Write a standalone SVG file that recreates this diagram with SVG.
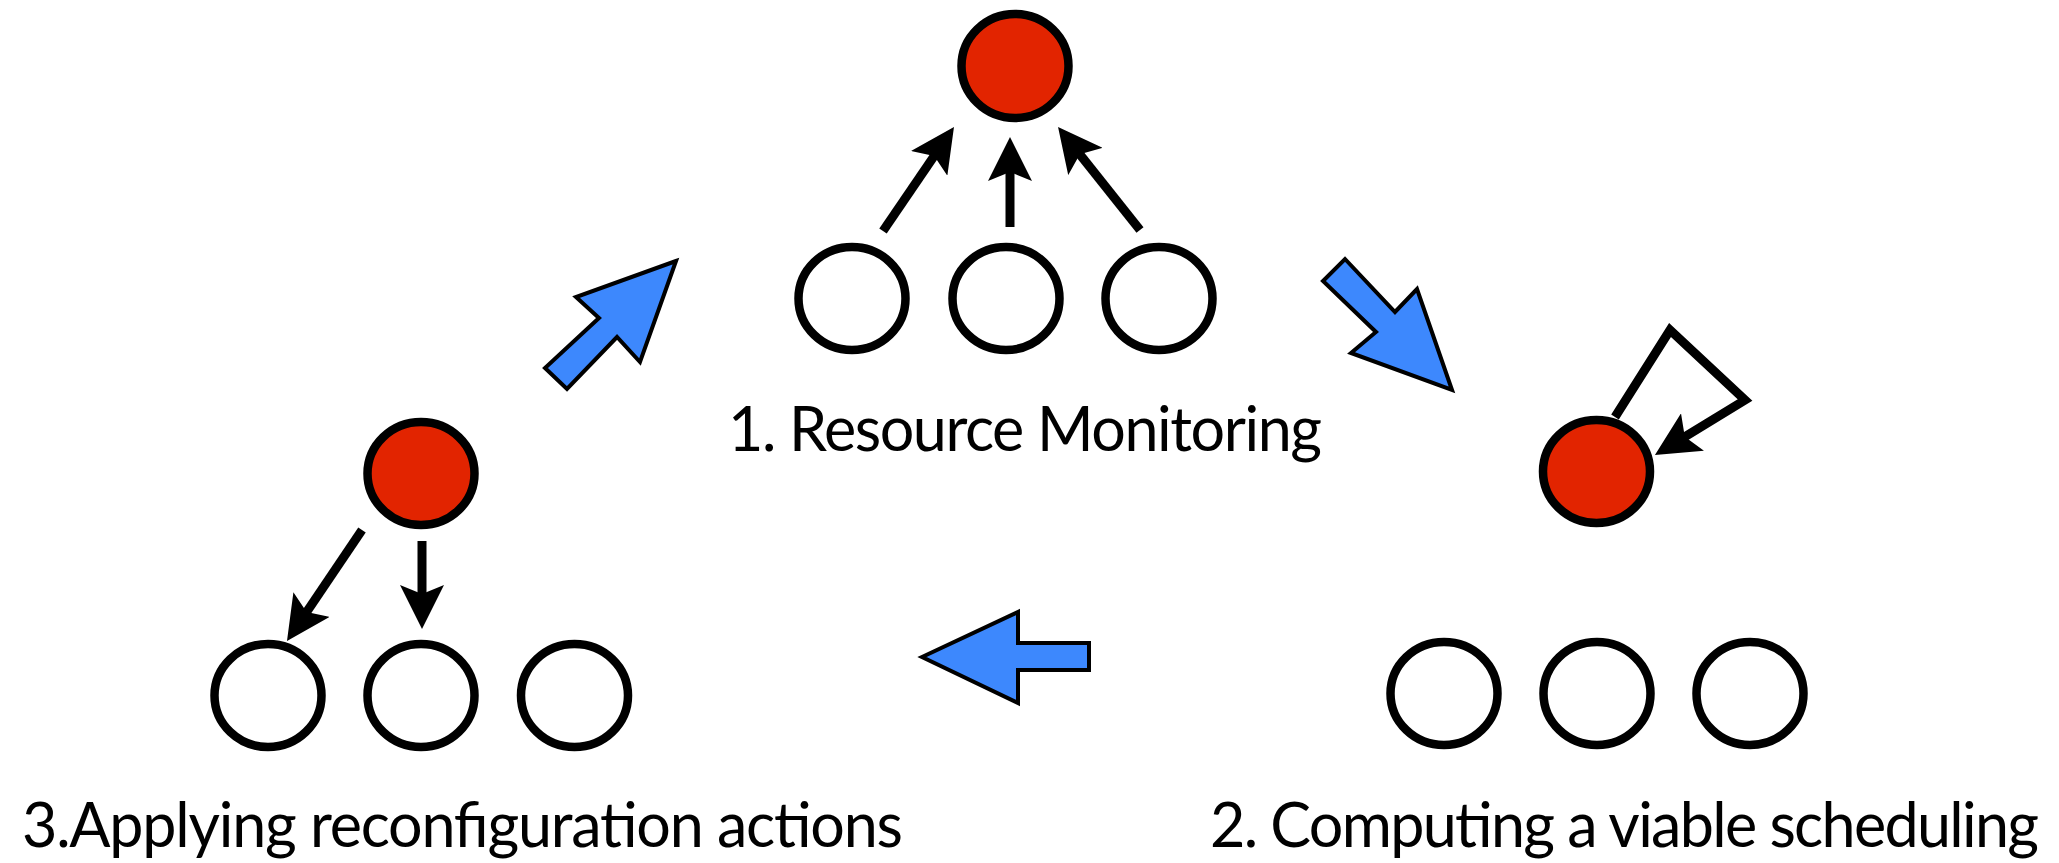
<svg xmlns="http://www.w3.org/2000/svg" width="2059" height="863" viewBox="0 0 2059 863">
<style>
.node{fill:#ffffff;stroke:#000;stroke-width:8.5}
.hub{fill:#e22400;stroke:#000;stroke-width:8.5}
.edge{fill:none;stroke:#000;stroke-width:9;stroke-linejoin:miter;stroke-miterlimit:10;marker-end:url(#ah)}
.flow{fill:#3d88fd;stroke:#000;stroke-width:4;stroke-linejoin:miter}
.lbl{font-family:Lato,"Open Sans","Liberation Sans",sans-serif;font-size:61px;fill:#000}
</style>
<defs>
<marker id="ah" viewBox="0 0 44 44" refX="24" refY="22" markerWidth="44" markerHeight="44" markerUnits="userSpaceOnUse" orient="auto">
<path d="M0,0 L44,22 L0,44 L9,22 Z" fill="#000"/>
</marker>
</defs>
<g id="connectors">
<line class="edge" x1="883" y1="231" x2="942.7" y2="143.5"/>
<line class="edge" x1="1010" y1="227" x2="1010" y2="157"/>
<line class="edge" x1="1140" y1="230" x2="1070.5" y2="142.6"/>
<line class="edge" x1="362" y1="530" x2="298.2" y2="624.4"/>
<line class="edge" x1="422" y1="541" x2="422" y2="609"/>
<polyline class="edge" points="1615,417 1670,330 1745,400 1672,444.6"/>
<polygon id="flow1" class="flow" points="676,261 576,297 599,318 545,368 567,389 617,337 640,362"/>
<polygon id="flow2" class="flow" points="1345,259 1395,312 1417,289 1452,390 1351,353 1376,332 1323,281"/>
<polygon id="flow3" class="flow" points="922,657 1018,612 1018,643 1089,643 1089,670 1018,670 1018,703"/>
</g>
<g id="monitor-hub"><ellipse class="hub" cx="1015" cy="66" rx="53.5" ry="52"/></g>
<g id="monitor-n1"><ellipse class="node" cx="852" cy="298.5" rx="53.5" ry="51.5"/></g>
<g id="monitor-n2"><ellipse class="node" cx="1006" cy="298.5" rx="53.5" ry="51.5"/></g>
<g id="monitor-n3"><ellipse class="node" cx="1159" cy="298.5" rx="53.5" ry="51.5"/></g>
<g id="apply-hub"><ellipse class="hub" cx="421" cy="473.5" rx="53.5" ry="51.5"/></g>
<g id="apply-n1"><ellipse class="node" cx="268" cy="695.5" rx="53.5" ry="51.5"/></g>
<g id="apply-n2"><ellipse class="node" cx="421" cy="695.5" rx="53.5" ry="51.5"/></g>
<g id="apply-n3"><ellipse class="node" cx="574.5" cy="695.5" rx="53.5" ry="51.5"/></g>
<g id="compute-hub"><ellipse class="hub" cx="1596.5" cy="471.5" rx="53.5" ry="51.5"/></g>
<g id="compute-n1"><ellipse class="node" cx="1444" cy="693.5" rx="53.5" ry="51.5"/></g>
<g id="compute-n2"><ellipse class="node" cx="1597" cy="693.5" rx="53.5" ry="51.5"/></g>
<g id="compute-n3"><ellipse class="node" cx="1750" cy="693.5" rx="53.5" ry="51.5"/></g>
<g id="labels">
<text class="lbl" x="728" y="451" textLength="594">1. Resource Monitoring</text>
<text class="lbl" x="22" y="847" textLength="881">3.Applying reconfiguration actions</text>
<text class="lbl" x="1210" y="847" textLength="829">2. Computing a viable scheduling</text>
</g>
</svg>
